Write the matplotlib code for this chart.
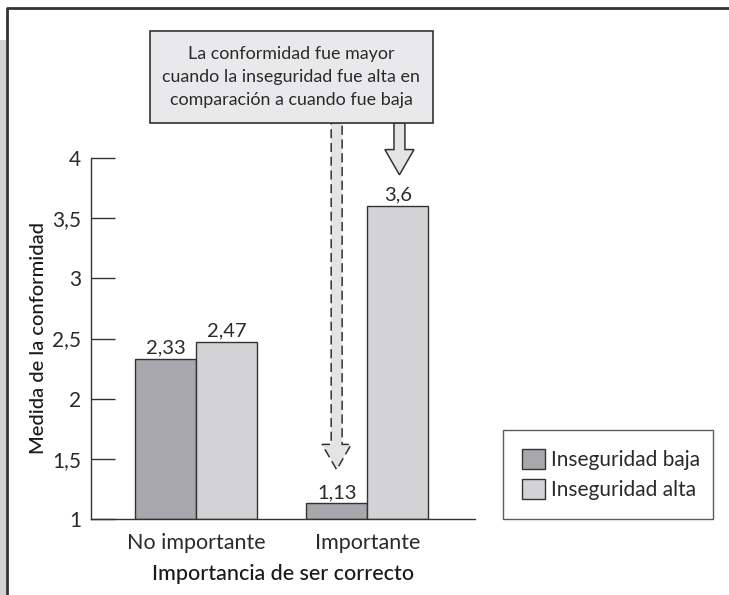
import matplotlib
matplotlib.use("Agg")
import matplotlib.pyplot as plt
import matplotlib.patches as mpatches
import numpy as np

plt.rcParams['font.family'] = ['Lato', 'DejaVu Sans']

# data
categories = ["No importante", "Importante"]
series_names = ["Inseguridad baja", "Inseguridad alta"]
baja = [2.33, 1.13]
alta = [2.47, 3.6]
yticks = [1, 1.5, 2, 2.5, 3, 3.5, 4]
note = "La conformidad fue mayor\ncuando la inseguridad fue alta en\ncomparación a cuando fue baja"

c_baja = "#a8a7ab"
c_alta = "#d3d3d5"
edge = "#333333"
txt = "#2a2a2a"

fig = plt.figure(figsize=(7.29, 5.95), dpi=100)
ax = fig.add_axes([91/729, 1-519/595, (475-91)/729, (519-158)/595])

x = np.arange(len(categories))
w = 0.357
ax.bar(x - w/2, np.array(baja) - 1, w, bottom=1, color=c_baja, edgecolor=edge, linewidth=1, label=series_names[0])
ax.bar(x + w/2, np.array(alta) - 1, w, bottom=1, color=c_alta, edgecolor=edge, linewidth=1, label=series_names[1])

def fmt(v):
    return ("%g" % v).replace(".", ",")

for xs, vals in [(x - w/2, baja), (x + w/2, alta)]:
    for xi, v in zip(xs, vals):
        ax.text(xi, v + 0.02, fmt(v), ha="center", va="bottom", fontsize=14.5,
                color=txt)

ax.set_xlim(-0.614, 1.63)
ax.set_ylim(1, 4)
ax.set_yticks(yticks)
ax.set_yticklabels([fmt(t) for t in yticks], fontsize=15, color=txt)
ax.tick_params(axis="y", direction="in", length=17, width=1, color=edge, pad=7)
ax.set_xticks(x)
ax.set_xticklabels(categories, fontsize=15.5, color=txt)
ax.tick_params(axis="x", length=0, pad=10)
for s in ["top", "right"]:
    ax.spines[s].set_visible(False)
for s in ["left", "bottom"]:
    ax.spines[s].set_color(edge)
    ax.spines[s].set_linewidth(1)

ax.set_xlabel("Importancia de ser correcto", fontsize=15.5, fontweight="medium", color="#1a1a1a", labelpad=8)
ax.set_ylabel("Medida de la conformidad", fontsize=14.5, fontweight="medium", color="#1a1a1a")
ax.yaxis.set_label_coords(-0.115, 0.5)

# arrows from the note box to the bars of "Importante"
def arrow(xc, top, tip, ls):
    sw, hw, hl = 0.032, 0.085, 0.21
    pts = [(xc - sw, top), (xc + sw, top), (xc + sw, tip + hl), (xc + hw, tip + hl),
           (xc, tip), (xc - hw, tip + hl), (xc - sw, tip + hl)]
    p = mpatches.Polygon(pts, closed=True, facecolor="#e4e4e6", edgecolor=edge,
                         linewidth=1.1, linestyle=ls, clip_on=False, zorder=5)
    ax.add_patch(p)

top = 1 + (519 - 123) / 120.3
arrow(x[1] - w/2, top, baja[1] + 0.28, (0, (6, 3)))
arrow(x[1] + w/2 + 0.01, top, alta[1] + 0.26, "-")

# note box
fig.patches.append(mpatches.Rectangle((150/729, 1-123/595), 283/729, 92/595,
                                      transform=fig.transFigure, facecolor="#e9e9eb",
                                      edgecolor=edge, linewidth=1.2, zorder=6))
fig.text(291/729, 1-77/595, note, ha="center", va="center", fontsize=12.9,
         color=txt, linespacing=1.55, zorder=7)

# legend
leg = ax.legend(loc="lower left", bbox_to_anchor=(503/729, 1-519/595, 210/729, 84/595),
                bbox_transform=fig.transFigure, mode="expand", borderaxespad=0,
                fancybox=False, edgecolor=edge, handlelength=1.1,
                handleheight=1.1, handletextpad=0.3, labelspacing=0.45, borderpad=0.9,
                prop={"size": 15})
leg.get_frame().set_linewidth(1)
for t in leg.get_texts():
    t.set_color(txt)

# page frame
fig.patches.append(mpatches.Rectangle((0, 0), 6/729, 1-40/595, transform=fig.transFigure,
                                      facecolor="#d2d2d4", edgecolor="none"))
fig.lines.append(plt.Line2D([7/729, 7/729, 1], [0, 1-8/595, 1-8/595], transform=fig.transFigure,
                            color="#333333", linewidth=2))

fig.savefig("out.png", dpi=100)
